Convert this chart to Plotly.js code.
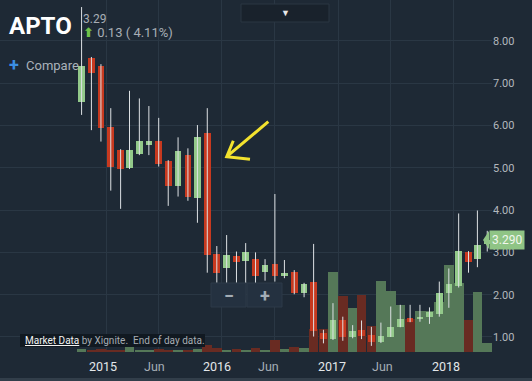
<!DOCTYPE html>
<html>
<head>
<meta charset="utf-8">
<script src="https://cdn.plot.ly/plotly-3.0.1.min.js"></script>
<style>
  html, body { margin: 0; padding: 0; background: #1e2935; }
  #chart { width: 532px; height: 381px; }
</style>
</head>
<body>
<div id="chart"></div>
<script>
// ---- Data (monthly candles, APTO) ----
const months = ['2014-10','2014-11','2014-12','2015-01','2015-02','2015-03','2015-04','2015-05','2015-06','2015-07','2015-08','2015-09','2015-10','2015-11','2015-12','2016-01','2016-02','2016-03','2016-04','2016-05','2016-06','2016-07','2016-08','2016-09','2016-10','2016-11','2016-12','2017-01','2017-02','2017-03','2017-04','2017-05','2017-06','2017-07','2017-08','2017-09','2017-10','2017-11','2017-12','2018-01','2018-02','2018-03','2018-04'];
const open  = [6.55,7.60,7.41,5.96,5.42,5.00,5.33,5.54,5.64,5.16,4.58,5.30,4.29,5.82,2.96,2.64,2.91,2.80,2.84,2.54,2.73,2.44,2.54,2.03,2.31,1.09,0.95,1.40,1.01,1.17,1.05,0.87,1.01,1.24,1.44,1.42,1.48,1.54,2.05,2.21,3.02,2.84,3.21];
const high  = [8.80,7.62,7.45,6.41,5.44,6.82,6.64,6.46,6.18,5.18,5.72,5.46,6.01,6.41,3.15,3.41,3.02,3.22,3.00,2.84,4.38,2.82,2.58,2.28,3.20,1.17,1.80,1.48,1.28,1.39,1.24,1.34,1.72,1.76,1.76,1.76,1.70,2.31,2.62,3.92,3.03,3.99,3.51];
const low   = [6.25,5.89,5.62,4.46,4.03,4.97,5.30,5.30,5.03,4.10,4.32,4.22,3.70,2.52,2.28,2.28,2.28,2.27,2.25,2.33,2.31,2.39,2.01,1.94,1.01,0.85,0.93,0.91,0.97,0.95,0.79,0.86,1.00,1.23,1.35,1.36,1.31,1.48,1.69,2.17,2.52,2.65,3.02];
const close = [7.41,7.25,5.95,5.03,4.98,5.42,5.63,5.63,5.09,4.58,5.40,4.32,5.72,2.95,2.52,2.94,2.78,3.00,2.44,2.70,2.45,2.52,2.05,2.25,1.13,0.95,1.40,1.01,1.14,1.03,0.87,1.02,1.23,1.43,1.36,1.48,1.58,2.03,2.25,3.03,2.78,3.17,3.29];
const volume = [0.15,0.10,0.15,0.10,0.10,0.25,0.12,0.10,0.15,0.10,0.10,0.10,0.15,0.35,0.20,0.10,0.15,0.10,0.20,0.10,0.60,0.15,0.25,0.20,1.13,1.13,4.00,2.80,2.20,2.85,1.30,3.55,3.05,2.35,1.65,2.05,2.05,2.50,4.35,3.45,1.60,3.00,0.45];

const priceTicks = [1,2,3,4,5,6,7,8];
const gridDates  = ['2015-01-01','2015-06-15','2016-01-01','2016-06-15','2017-01-01','2017-06-15','2018-01-01'];
const labelDates = ['2014-12-24','2015-06-04','2015-12-16','2016-05-28','2016-12-13','2017-05-21','2017-12-07'];
const labelText  = ['2015','Jun','2016','Jun','2017','Jun','2018'];

// ---- Styling ----
const BG = '#1e2935', GRID = '#2a3744';
const GREEN = '#93c98a', RED = '#c7391f';
const VGREEN = '#557858', VRED = '#692b22';
const DAY = 86400000;

const mid = months.map(m => m + '-16');
const up = close.map((c, i) => c >= open[i]);

const wx = [], wy = [];
mid.forEach((d, i) => { wx.push(d, d, null); wy.push(low[i], high[i], null); });

const traces = [
  { type: 'bar', x: mid, y: volume, xaxis: 'x', yaxis: 'y',
    width: 30.4 * DAY, marker: { color: up.map(u => u ? VGREEN : VRED), line: { width: 0 } },
    hoverinfo: 'skip', showlegend: false },
  { type: 'scatter', mode: 'lines', x: wx, y: wy, xaxis: 'x', yaxis: 'y2',
    line: { color: '#dde1e4', width: 1 }, hoverinfo: 'skip', showlegend: false, connectgaps: false },
  { type: 'bar', x: mid, base: open.map((o, i) => Math.min(o, close[i])),
    y: open.map((o, i) => Math.abs(close[i] - o)), xaxis: 'x', yaxis: 'y2',
    width: 21 * DAY, marker: { color: up.map(u => u ? GREEN : RED), line: { width: 0 } },
    hoverinfo: 'skip', showlegend: false }
];

const last = close[close.length - 1];
const PW = 492, PH = 352;
const px = x => x / PW, py = y => 1 - y / PH;

const annotations = [
  { xref: 'paper', yref: 'paper', x: px(7), y: py(26), xanchor: 'left', yanchor: 'middle',
    text: '<b>APTO</b>', showarrow: false, font: { size: 24, color: '#ffffff' } },
  { xref: 'paper', yref: 'paper', x: px(81), y: py(19), xanchor: 'left', yanchor: 'middle',
    text: last.toFixed(2), showarrow: false, font: { size: 12, color: '#a8aeb5' } },
  { xref: 'paper', yref: 'paper', x: px(81), y: py(32.5), xanchor: 'left', yanchor: 'middle',
    text: '<span style="color:#71c24a;font-family:DejaVu Sans;font-weight:bold">⬆</span> 0.13 ( 4.11%)', showarrow: false,
    font: { size: 13, color: '#a8aeb5' } },
  { xref: 'paper', yref: 'paper', x: px(7), y: py(64.5), xanchor: 'left', yanchor: 'middle',
    text: '<b>+</b>', showarrow: false, font: { size: 18, color: '#3b8fe3' } },
  { xref: 'paper', yref: 'paper', x: px(24), y: py(65), xanchor: 'left', yanchor: 'middle',
    text: 'Compare', showarrow: false, font: { size: 13, color: '#aab2ba' } },
  { xref: 'paper', yref: 'paper', x: px(23), y: py(340.5), xanchor: 'left', yanchor: 'middle',
    text: '<span style="color:#f2f2f2;text-decoration:underline">Market Data</span> by Xignite.  End of day data.',
    showarrow: false, font: { size: 10, color: '#a7adb3' } },
  { xref: 'paper', yref: 'paper', x: px(285), y: py(13), xanchor: 'center', yanchor: 'middle',
    text: '▼', showarrow: false, font: { size: 9, color: '#e8e8e8' } },
  { xref: 'paper', yref: 'paper', x: px(228.5), y: py(295), xanchor: 'center', yanchor: 'middle',
    text: '<b>−</b>', showarrow: false, font: { size: 18, color: '#a3acb5' } },
  { xref: 'paper', yref: 'paper', x: px(264.5), y: py(295), xanchor: 'center', yanchor: 'middle',
    text: '<b>+</b>', showarrow: false, font: { size: 18, color: '#a3acb5' } },
  { xref: 'paper', yref: 'y2', x: 1, y: last, xanchor: 'left', yanchor: 'middle', xshift: -3,
    text: last.toFixed(3), showarrow: false, bgcolor: '#8fc485', borderpad: 2,
    font: { size: 12, color: '#f1f7ee' } }
];
labelDates.forEach((d, i) => {
  const isYear = /^\d+$/.test(labelText[i]);
  annotations.push({ xref: 'x', yref: 'paper', x: d, y: py(366), xanchor: 'center', yanchor: 'middle',
    text: labelText[i], showarrow: false,
    font: { size: 12.5, color: isYear ? '#e3e7ea' : '#a6aeb6' } });
});

const layout = {
  width: 532, height: 381,
  margin: { l: 0, r: 40, t: 0, b: 29, pad: 0 },
  paper_bgcolor: BG, plot_bgcolor: BG,
  font: { family: 'Roboto, "Open Sans", sans-serif', color: '#aab1b8', size: 12 },
  barmode: 'overlay', bargap: 0,
  showlegend: false,
  xaxis: { type: 'date', range: ['2014-02-01', '2018-05-01'], tickvals: gridDates,
    showticklabels: false, showgrid: true, gridcolor: GRID, gridwidth: 1,
    zeroline: false, showline: false, ticks: '', fixedrange: true },
  yaxis: { range: [0, 17.6], visible: false, showgrid: false, zeroline: false, fixedrange: true },
  yaxis2: { overlaying: 'y', side: 'right', anchor: 'x', range: [0.645, 8.967],
    tickvals: priceTicks, ticktext: priceTicks.map(v => v.toFixed(2)),
    showgrid: true, gridcolor: GRID, gridwidth: 1, zeroline: false, showline: false,
    ticks: '', tickfont: { size: 11, color: '#b3b8bd' } },
  shapes: [
    { type: 'rect', xref: 'paper', yref: 'paper', x0: -0.01, x1: 1.1, y0: py(378), y1: py(382),
      fillcolor: '#323e4a', line: { width: 0 }, layer: 'above' },
    { type: 'rect', xref: 'paper', yref: 'paper', x0: px(20), x1: px(205), y0: py(347), y1: py(334),
      fillcolor: '#111921', line: { width: 0 }, layer: 'above' },
    { type: 'rect', xref: 'paper', yref: 'paper', x0: px(241), x1: px(329), y0: py(22), y1: py(4),
      fillcolor: '#19222c', line: { color: '#2b3642', width: 1 }, layer: 'above' },
    { type: 'rect', xref: 'paper', yref: 'paper', x0: px(211), x1: px(246), y0: py(307), y1: py(283),
      fillcolor: '#243140', line: { color: '#2c3a49', width: 1 }, layer: 'above' },
    { type: 'rect', xref: 'paper', yref: 'paper', x0: px(247), x1: px(282), y0: py(307), y1: py(283),
      fillcolor: '#243140', line: { color: '#2c3a49', width: 1 }, layer: 'above' },
    { type: 'path', xref: 'paper', yref: 'paper', layer: 'above',
      path: 'M' + px(268.3) + ',' + py(121.7) + ' L' + px(226.7) + ',' + py(156.7) +
            ' M' + px(233.3) + ',' + py(140.7) + ' L' + px(226.7) + ',' + py(156.7) + ' L' + px(250) + ',' + py(159.3),
      line: { color: '#f3e22e', width: 3 } },
    { type: 'path', xref: 'paper', yref: 'y2', xsizemode: 'pixel', ysizemode: 'pixel',
      xanchor: 1, yanchor: last, path: 'M-3,9 L-9,0 L-3,-9 Z',
      fillcolor: '#8fc485', line: { width: 0 }, layer: 'above' }
  ],
  annotations: annotations
};

Plotly.newPlot('chart', traces, layout, { displayModeBar: false, staticPlot: true });
</script>
</body>
</html>
